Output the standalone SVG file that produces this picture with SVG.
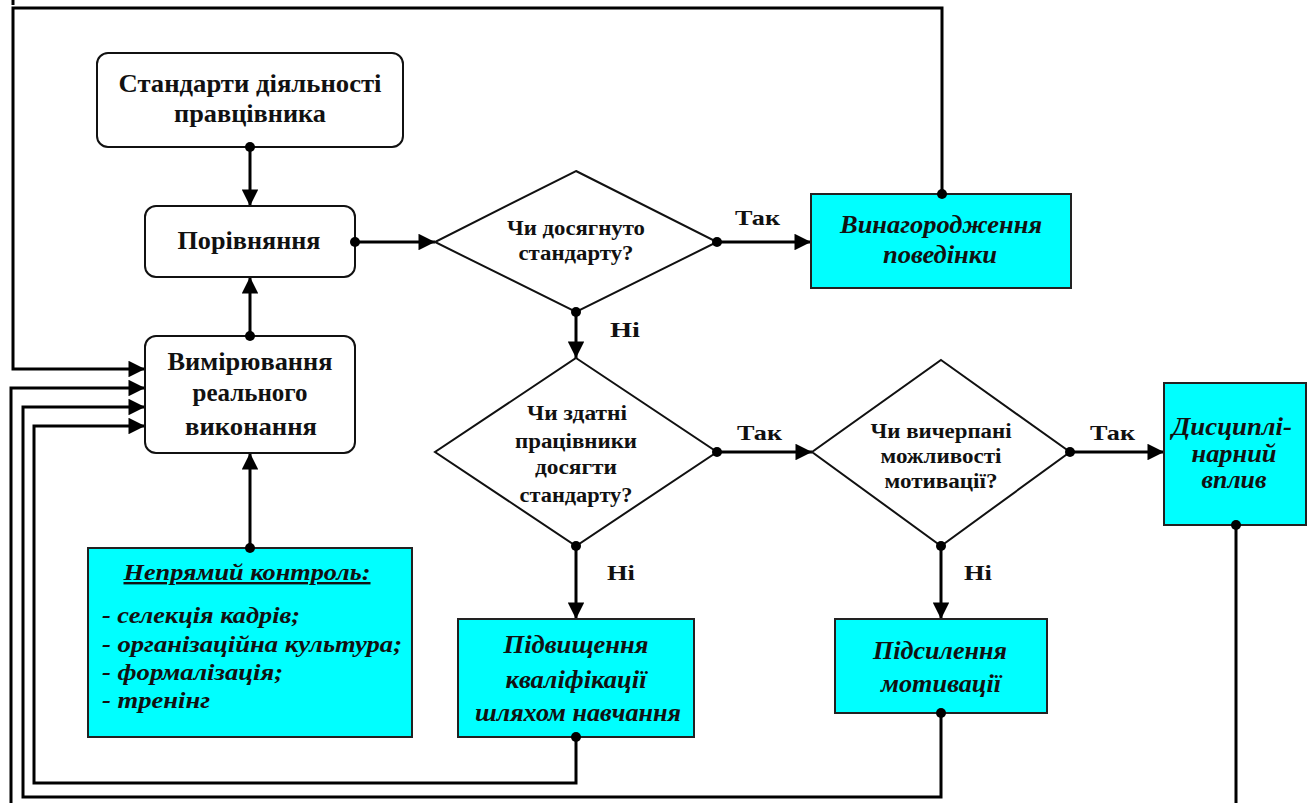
<svg xmlns="http://www.w3.org/2000/svg" width="1311" height="803" viewBox="0 0 1311 803">
<defs>
<style>
.rbox{fill:#fff;stroke:#111;stroke-width:2}
.cbox{fill:#00ffff;stroke:#222;stroke-width:2}
.dia{fill:#fff;stroke:#111;stroke-width:2}
text{font-family:"Liberation Serif","DejaVu Serif",serif;font-weight:bold;fill:#111}
.t{text-anchor:middle;font-size:25px}
.d{text-anchor:middle;font-size:20px}
.i{font-style:italic;text-anchor:middle;font-size:25px}
.il{font-style:italic;font-size:24px}
.lbl{font-size:22px}
.w{fill:none;stroke:#000;stroke-width:3}
.dot{fill:#000}
</style>
<marker id="ah" viewBox="0 0 10 10" refX="10" refY="5" markerWidth="7.5" markerHeight="5.5" markerUnits="strokeWidth" orient="auto">
<path d="M0,0 L10,5 L0,10 z" fill="#000"/>
</marker>
</defs>

<g id="connectors">
<line class="w" x1="13" y1="0" x2="13" y2="5"/>
<path class="w" d="M250,147 V206" marker-end="url(#ah)"/>
<path class="w" d="M250,336 V277" marker-end="url(#ah)"/>
<path class="w" d="M250,548 V453" marker-end="url(#ah)"/>
<path class="w" d="M355,242 H435" marker-end="url(#ah)"/>
<path class="w" d="M717,242 H811" marker-end="url(#ah)"/>
<path class="w" d="M576,312 V358" marker-end="url(#ah)"/>
<path class="w" d="M717,452 H812" marker-end="url(#ah)"/>
<path class="w" d="M1070,452 H1164" marker-end="url(#ah)"/>
<path class="w" d="M576,546 V619" marker-end="url(#ah)"/>
<path class="w" d="M941,546 V619" marker-end="url(#ah)"/>
<path class="w" d="M942,194 V8 H13 V369 H145" marker-end="url(#ah)"/>
<path class="w" d="M1236,525 V810"/>
<path class="w" d="M11,810 V388 H145" marker-end="url(#ah)"/>
<path class="w" d="M941,713 V797 H23 V407 H145" marker-end="url(#ah)"/>
<path class="w" d="M576,737 V783 H34 V426 H145" marker-end="url(#ah)"/>
</g>

<g id="n-standards">
<rect class="rbox" x="97" y="53" width="306" height="94" rx="11"/>
<text class="t" x="250" y="92" textLength="263" lengthAdjust="spacingAndGlyphs">Стандарти діяльності</text>
<text class="t" x="250" y="122" textLength="152" lengthAdjust="spacingAndGlyphs">правцівника</text>
</g>

<g id="n-compare">
<rect class="rbox" x="145" y="206" width="210" height="71" rx="11"/>
<text class="t" x="249" y="249" textLength="143" lengthAdjust="spacingAndGlyphs">Порівняння</text>
</g>

<g id="n-measure">
<rect class="rbox" x="145" y="336" width="210" height="117" rx="11"/>
<text class="t" x="250" y="370" textLength="165" lengthAdjust="spacingAndGlyphs">Вимірювання</text>
<text class="t" x="250" y="401" textLength="115" lengthAdjust="spacingAndGlyphs">реального</text>
<text class="t" x="251" y="435" textLength="132" lengthAdjust="spacingAndGlyphs">виконання</text>
</g>

<g id="n-indirect">
<rect class="cbox" x="88" y="548" width="324" height="189"/>
<text class="il" x="247" y="580" text-anchor="middle" text-decoration="underline" textLength="247" lengthAdjust="spacingAndGlyphs">Непрямий контроль:</text>
<text class="il" x="102" y="623" textLength="198" lengthAdjust="spacingAndGlyphs">- селекція кадрів;</text>
<text class="il" x="102" y="652" textLength="300" lengthAdjust="spacingAndGlyphs">- організаційна культура;</text>
<text class="il" x="102" y="680" textLength="181" lengthAdjust="spacingAndGlyphs">- формалізація;</text>
<text class="il" x="102" y="708" textLength="108" lengthAdjust="spacingAndGlyphs">- тренінг</text>
</g>

<g id="n-q1">
<polygon class="dia" points="576,171 717,242 576,312 435,242"/>
<text class="d" x="576" y="235" textLength="138" lengthAdjust="spacingAndGlyphs">Чи досягнуто</text>
<text class="d" x="576" y="260" textLength="115" lengthAdjust="spacingAndGlyphs">стандарту?</text>
</g>

<g id="n-reward">
<rect class="cbox" x="811" y="194" width="260" height="94"/>
<text class="i" x="941" y="233" textLength="202" lengthAdjust="spacingAndGlyphs">Винагородження</text>
<text class="i" x="940" y="263" textLength="114" lengthAdjust="spacingAndGlyphs">поведінки</text>
</g>

<g id="n-q2">
<polygon class="dia" points="576,358 717,452 576,546 435,452"/>
<text class="d" x="577" y="420" textLength="100" lengthAdjust="spacingAndGlyphs">Чи здатні</text>
<text class="d" x="576" y="448" textLength="122" lengthAdjust="spacingAndGlyphs">працівники</text>
<text class="d" x="576" y="474" textLength="82" lengthAdjust="spacingAndGlyphs">досягти</text>
<text class="d" x="576" y="502" textLength="113" lengthAdjust="spacingAndGlyphs">стандарту?</text>
</g>

<g id="n-q3">
<polygon class="dia" points="941,360 1070,452 941,546 812,452"/>
<text class="d" x="941" y="438" textLength="141" lengthAdjust="spacingAndGlyphs">Чи вичерпані</text>
<text class="d" x="941" y="463" textLength="121" lengthAdjust="spacingAndGlyphs">можливості</text>
<text class="d" x="941" y="488" textLength="113" lengthAdjust="spacingAndGlyphs">мотивації?</text>
</g>

<g id="n-discipline">
<rect class="cbox" x="1164" y="383" width="142" height="142"/>
<text class="i" x="1232" y="435" textLength="120" lengthAdjust="spacingAndGlyphs">Дисциплі-</text>
<text class="i" x="1234" y="462" textLength="85" lengthAdjust="spacingAndGlyphs">нарний</text>
<text class="i" x="1234" y="488" textLength="65" lengthAdjust="spacingAndGlyphs">вплив</text>
</g>

<g id="n-training">
<rect class="cbox" x="458" y="619" width="236" height="118"/>
<text class="i" x="576" y="653" textLength="145" lengthAdjust="spacingAndGlyphs">Підвищення</text>
<text class="i" x="576" y="688" textLength="141" lengthAdjust="spacingAndGlyphs">кваліфікації</text>
<text class="i" x="578" y="721" textLength="206" lengthAdjust="spacingAndGlyphs">шляхом навчання</text>
</g>

<g id="n-motivation">
<rect class="cbox" x="835" y="619" width="212" height="94"/>
<text class="i" x="940" y="659" textLength="134" lengthAdjust="spacingAndGlyphs">Підсилення</text>
<text class="i" x="941" y="692" textLength="120" lengthAdjust="spacingAndGlyphs">мотивації</text>
</g>

<g id="labels">
<text class="lbl" x="735" y="225" textLength="45" lengthAdjust="spacingAndGlyphs">Так</text>
<text class="lbl" x="610" y="337" textLength="30" lengthAdjust="spacingAndGlyphs">Ні</text>
<text class="lbl" x="737" y="440" textLength="45" lengthAdjust="spacingAndGlyphs">Так</text>
<text class="lbl" x="1090" y="440" textLength="45" lengthAdjust="spacingAndGlyphs">Так</text>
<text class="lbl" x="607" y="580" textLength="28" lengthAdjust="spacingAndGlyphs">Ні</text>
<text class="lbl" x="964" y="580" textLength="28" lengthAdjust="spacingAndGlyphs">Ні</text>
</g>

<g id="dots">
<circle class="dot" cx="250" cy="147" r="5"/>
<circle class="dot" cx="250" cy="336" r="5"/>
<circle class="dot" cx="250" cy="548" r="5"/>
<circle class="dot" cx="355" cy="242" r="5"/>
<circle class="dot" cx="717" cy="242" r="5"/>
<circle class="dot" cx="576" cy="312" r="5"/>
<circle class="dot" cx="717" cy="452" r="5"/>
<circle class="dot" cx="1070" cy="452" r="5"/>
<circle class="dot" cx="576" cy="546" r="5"/>
<circle class="dot" cx="941" cy="546" r="5"/>
<circle class="dot" cx="942" cy="194" r="5"/>
<circle class="dot" cx="1236" cy="525" r="5"/>
<circle class="dot" cx="941" cy="713" r="5"/>
<circle class="dot" cx="576" cy="737" r="5"/>
</g>
</svg>
